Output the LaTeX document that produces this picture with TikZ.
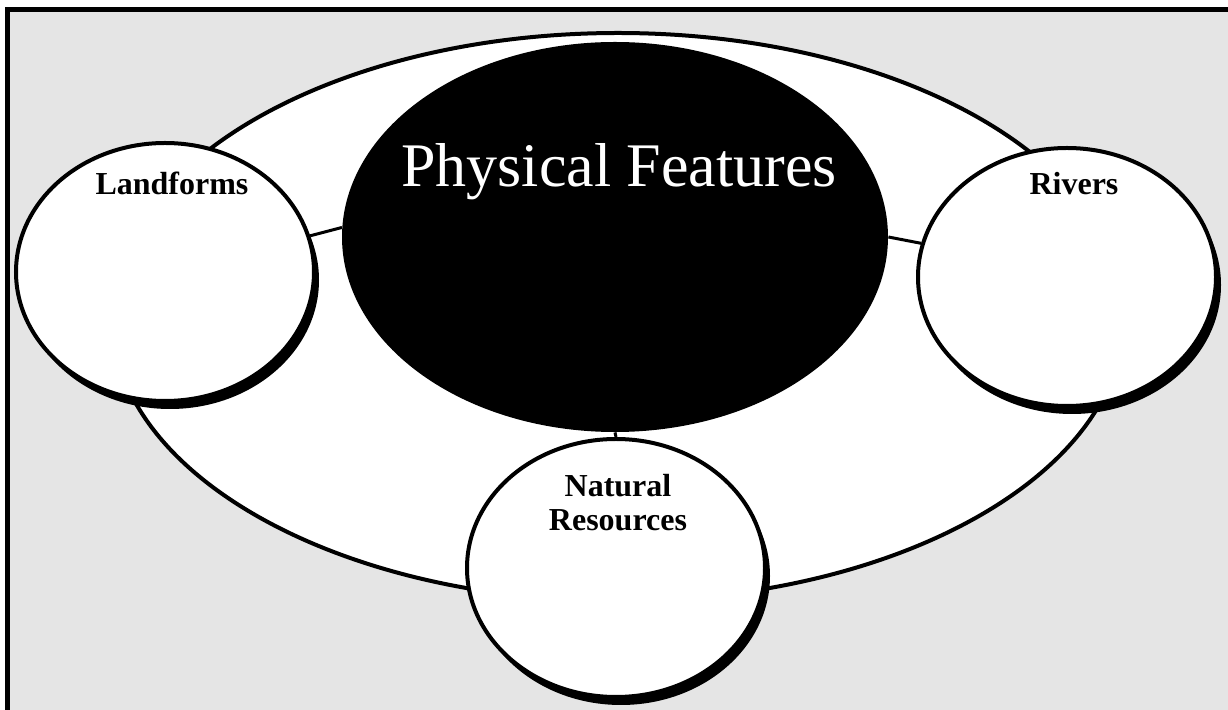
\documentclass[tikz,border=0pt]{standalone}
\usepackage{fontspec}
\setmainfont{Liberation Serif}
\usetikzlibrary{shapes.geometric,shadows}
\definecolor{panel}{HTML}{E5E5E5}
\tikzset{
    frame/.style={draw=black, line width=2.5pt, fill=panel},
    ring/.style={ellipse, draw, line width=2pt, fill=white, inner sep=0pt,
        minimum width=506pt, minimum height=284pt},
    hub/.style={ellipse, fill=black, inner sep=0pt,
        minimum width=273pt, minimum height=195pt},
    bubble/.style={ellipse, draw, line width=2pt, fill=white, inner sep=0pt,
        minimum width=149pt, minimum height=129pt,
        drop shadow={shadow xshift=2.5pt, shadow yshift=-4pt, fill=black, opacity=1}},
    link/.style={line width=1.5pt},
    lbl/.style={inner sep=0pt, font=\bfseries\fontsize{16}{17}\selectfont},
    heading/.style={inner sep=0pt, text=white, font=\fontsize{31}{36}\selectfont}
}
\begin{document}
\begin{tikzpicture}[x=0.5pt, y=-0.5pt]
        \clip (0, 0) rectangle (1228, 710);
        \draw[frame] (7.5, 9.5) rectangle (1232, 716);
        \draw (618, 317) node[ring](world){};
        \draw (615, 237) node[hub](phys){};
        \draw (165, 272) node[bubble](land){};
        \draw (1067, 277) node[bubble](riv){};
        \draw (616, 568) node[bubble](nat){};
        \draw[link] (land.14) -- (phys.178);
        \draw[link] (phys.0) -- (riv.167);
        \draw[link] (phys.south) -- (nat.north);
        \draw (619, 187) node[heading, anchor=base](phystxt){Physical Features};
        \draw (172, 195) node[lbl, anchor=base](landtxt){Landforms};
        \draw (1074, 195) node[lbl, anchor=base](rivtxt){Rivers};
        \draw (618, 531) node[lbl, anchor=base, align=center](nattxt){Natural\\Resources};
    \end{tikzpicture}
\end{document}
